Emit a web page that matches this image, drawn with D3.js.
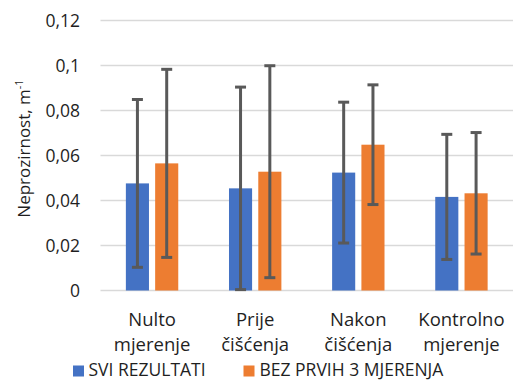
<!DOCTYPE html>
<html>
<head>
<meta charset="utf-8">
<script src="https://cdn.jsdelivr.net/npm/d3@7"></script>
<style>
  html, body { margin: 0; padding: 0; background: #fff; }
  svg { display: block; font-family: "Open Sans", sans-serif; }
</style>
</head>
<body>
<svg id="chart" width="515" height="381"></svg>
<script>
const categories = [["Nulto", "mjerenje"], ["Prije", "čišćenja"], ["Nakon", "čišćenja"], ["Kontrolno", "mjerenje"]];
const seriesNames = ["SVI REZULTATI", "BEZ PRVIH 3 MJERENJA"];
const sviValues = [0.0476, 0.0454, 0.0524, 0.0416];
const sviErrors = [0.0373, 0.0450, 0.0313, 0.0278];
const bezValues = [0.0565, 0.0528, 0.0648, 0.0432];
const bezErrors = [0.0418, 0.0471, 0.0266, 0.0270];
const yTicks = [0, 0.02, 0.04, 0.06, 0.08, 0.1, 0.12];
const yTickLabels = ["0", "0,02", "0,04", "0,06", "0,08", "0,1", "0,12"];
const yTitle = "Neprozirnost, m";
const yTitleSup = "-1";
const colors = ["#4472C4", "#ED7D31"];

const series = [
  { name: seriesNames[0], values: sviValues, errors: sviErrors, color: colors[0] },
  { name: seriesNames[1], values: bezValues, errors: bezErrors, color: colors[1] }
];

const svg = d3.select("#chart");
const textColor = "#1f1f1f";

const x = d3.scaleBand().domain(d3.range(categories.length)).range([100.5, 513]).padding(0);
const y = d3.scaleLinear().domain([0, 0.12]).range([290.5, 20.5]);

const bw = x.bandwidth();
const barW = bw * 0.224;
const gap = bw * 0.06;
const groupW = barW * 2 + gap;

// gridlines
svg.append("g").selectAll("line").data(yTicks).join("line")
  .attr("x1", 100.5).attr("x2", 513)
  .attr("y1", d => y(d)).attr("y2", d => y(d))
  .attr("stroke", "#d9d9d9").attr("stroke-width", 1.5);

// y tick labels
svg.append("g").selectAll("text").data(yTicks).join("text")
  .attr("x", 80).attr("y", d => y(d))
  .attr("dy", "0.35em")
  .attr("text-anchor", "end")
  .attr("font-size", 17.5)
  .attr("fill", textColor)
  .text((d, i) => yTickLabels[i]);

// bars
series.forEach((s, si) => {
  svg.append("g").selectAll("rect").data(s.values).join("rect")
    .attr("x", (d, i) => x(i) + bw / 2 - groupW / 2 + si * (barW + gap))
    .attr("y", d => y(d))
    .attr("width", barW)
    .attr("height", d => y(0) - y(d))
    .attr("fill", s.color);
});

// error bars
series.forEach((s, si) => {
  const g = svg.append("g");
  s.values.forEach((v, i) => {
    const cx = x(i) + bw / 2 - groupW / 2 + si * (barW + gap) + barW / 2;
    const lo = Math.max(0, v - s.errors[i]);
    const hi = v + s.errors[i];
    g.append("line").attr("x1", cx).attr("x2", cx).attr("y1", y(hi)).attr("y2", y(lo))
      .attr("stroke", "#595959").attr("stroke-width", 3);
    [lo, hi].forEach(e => {
      g.append("line").attr("x1", cx - 5.5).attr("x2", cx + 5.5).attr("y1", y(e)).attr("y2", y(e))
        .attr("stroke", "#595959").attr("stroke-width", 3);
    });
  });
});

// category labels
const cat = svg.append("g").selectAll("text").data(categories).join("text")
  .attr("text-anchor", "middle")
  .attr("font-size", 18.5)
  .attr("fill", textColor);
cat.each(function(d, i) {
  const t = d3.select(this);
  d.forEach((line, li) => {
    t.append("tspan").attr("x", x(i) + bw / 2).attr("y", 325.5 + li * 25).text(line);
  });
});

// y title
const yt = svg.append("text")
  .attr("transform", `translate(30,${148.5}) rotate(-90)`)
  .attr("text-anchor", "middle")
  .attr("font-size", 17)
  .attr("fill", textColor);
yt.append("tspan").text(yTitle);
yt.append("tspan").attr("font-size", 11).attr("dy", -7).text(yTitleSup);

// legend
const legendItems = [{ x: 73, textX: 88.5 }, { x: 243.5, textX: 259.5 }];
series.forEach((s, si) => {
  svg.append("rect").attr("x", legendItems[si].x).attr("y", 365.5).attr("width", 11).attr("height", 11)
    .attr("fill", s.color);
  svg.append("text").attr("x", legendItems[si].textX).attr("y", 375.8)
    .attr("font-size", 17.5).attr("fill", textColor).text(s.name);
});
</script>
</body>
</html>
